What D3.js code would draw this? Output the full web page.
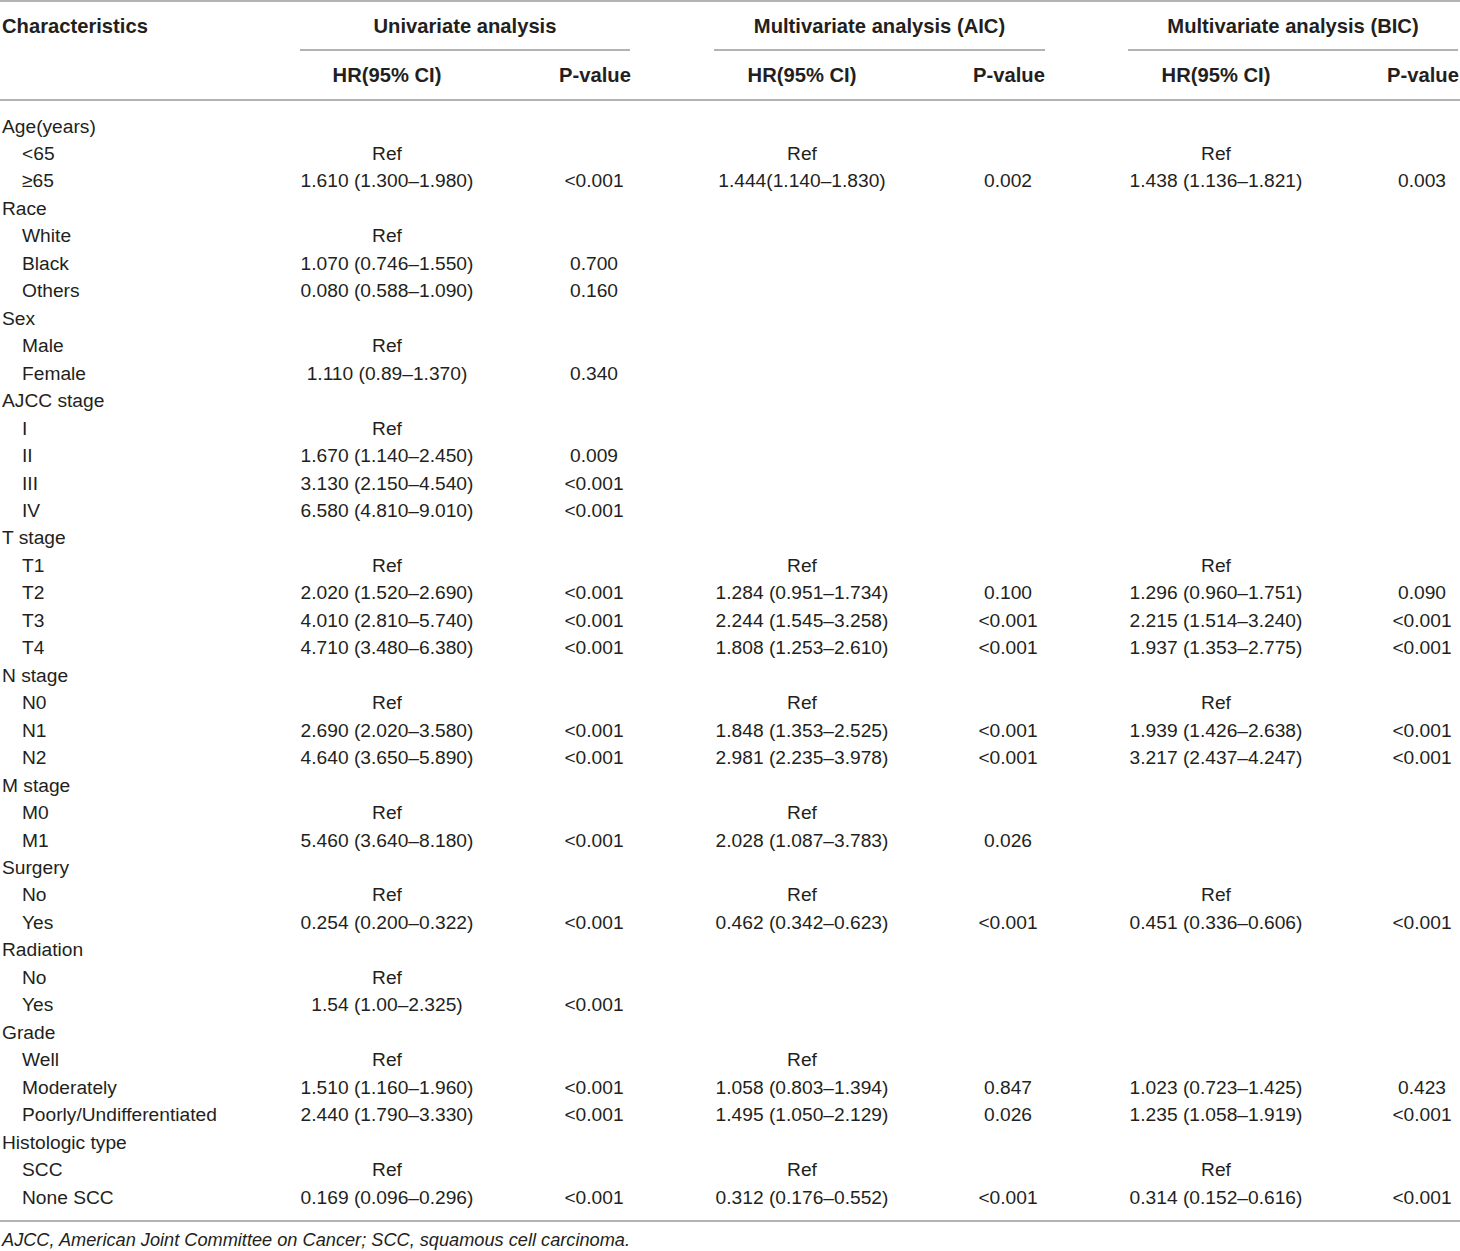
<!DOCTYPE html>
<html>
<head>
<meta charset="utf-8">
<script src="https://cdn.jsdelivr.net/npm/d3@7"></script>
<style>
  body { margin: 0; background: #fff; }
  svg text { font-family: "Liberation Sans", Arial, sans-serif; fill: #231f20; }
</style>
</head>
<body>
<div id="chart-area"></div>
<script>
// row labels (group headings are listed separately)
var labels = ["Age(years)", "<65", "≥65", "Race", "White", "Black", "Others",
  "Sex", "Male", "Female", "AJCC stage", "I", "II", "III", "IV",
  "T stage", "T1", "T2", "T3", "T4", "N stage", "N0", "N1", "N2",
  "M stage", "M0", "M1", "Surgery", "No", "Yes", "Radiation", "No", "Yes",
  "Grade", "Well", "Moderately", "Poorly/Undifferentiated",
  "Histologic type", "SCC", "None SCC"];
var groups = ["Age(years)", "Race", "Sex", "AJCC stage", "T stage", "N stage",
  "M stage", "Surgery", "Radiation", "Grade", "Histologic type"];

var uniHR = ["", "Ref", "1.610 (1.300–1.980)", "", "Ref", "1.070 (0.746–1.550)", "0.080 (0.588–1.090)",
  "", "Ref", "1.110 (0.89–1.370)", "", "Ref", "1.670 (1.140–2.450)", "3.130 (2.150–4.540)", "6.580 (4.810–9.010)",
  "", "Ref", "2.020 (1.520–2.690)", "4.010 (2.810–5.740)", "4.710 (3.480–6.380)",
  "", "Ref", "2.690 (2.020–3.580)", "4.640 (3.650–5.890)",
  "", "Ref", "5.460 (3.640–8.180)", "", "Ref", "0.254 (0.200–0.322)", "", "Ref", "1.54 (1.00–2.325)",
  "", "Ref", "1.510 (1.160–1.960)", "2.440 (1.790–3.330)", "", "Ref", "0.169 (0.096–0.296)"];
var uniP = ["", "", "<0.001", "", "", "0.700", "0.160",
  "", "", "0.340", "", "", "0.009", "<0.001", "<0.001",
  "", "", "<0.001", "<0.001", "<0.001", "", "", "<0.001", "<0.001",
  "", "", "<0.001", "", "", "<0.001", "", "", "<0.001",
  "", "", "<0.001", "<0.001", "", "", "<0.001"];
var aicHR = ["", "Ref", "1.444(1.140–1.830)", "", "", "", "",
  "", "", "", "", "", "", "", "",
  "", "Ref", "1.284 (0.951–1.734)", "2.244 (1.545–3.258)", "1.808 (1.253–2.610)",
  "", "Ref", "1.848 (1.353–2.525)", "2.981 (2.235–3.978)",
  "", "Ref", "2.028 (1.087–3.783)", "", "Ref", "0.462 (0.342–0.623)", "", "", "",
  "", "Ref", "1.058 (0.803–1.394)", "1.495 (1.050–2.129)", "", "Ref", "0.312 (0.176–0.552)"];
var aicP = ["", "", "0.002", "", "", "", "",
  "", "", "", "", "", "", "", "",
  "", "", "0.100", "<0.001", "<0.001", "", "", "<0.001", "<0.001",
  "", "", "0.026", "", "", "<0.001", "", "", "",
  "", "", "0.847", "0.026", "", "", "<0.001"];
var bicHR = ["", "Ref", "1.438 (1.136–1.821)", "", "", "", "",
  "", "", "", "", "", "", "", "",
  "", "Ref", "1.296 (0.960–1.751)", "2.215 (1.514–3.240)", "1.937 (1.353–2.775)",
  "", "Ref", "1.939 (1.426–2.638)", "3.217 (2.437–4.247)",
  "", "", "", "", "Ref", "0.451 (0.336–0.606)", "", "", "",
  "", "", "1.023 (0.723–1.425)", "1.235 (1.058–1.919)", "", "Ref", "0.314 (0.152–0.616)"];
var bicP = ["", "", "0.003", "", "", "", "",
  "", "", "", "", "", "", "", "",
  "", "", "0.090", "<0.001", "<0.001", "", "", "<0.001", "<0.001",
  "", "", "", "", "", "<0.001", "", "", "",
  "", "", "0.423", "<0.001", "", "", "<0.001"];

var analyses = ["Univariate analysis", "Multivariate analysis (AIC)", "Multivariate analysis (BIC)"];
var subHeaders = ["HR(95% CI)", "P-value"];
var footnote = "AJCC, American Joint Committee on Cancer; SCC, squamous cell carcinoma.";

var W = 1460, H = 1251;
var svg = d3.select("#chart-area").append("svg")
    .attr("width", W)
    .attr("height", H);

// row positions
var yScale = d3.scalePoint()
    .domain(d3.range(labels.length))
    .range([126, 1197]);

// column centres
var colX = d3.scaleOrdinal()
    .domain(["uniHR", "uniP", "aicHR", "aicP", "bicHR", "bicP"])
    .range([387, 594, 802, 1008, 1216, 1422]);
var spans = [[300, 630], [714, 1045], [1128, 1458]];

var lineColor = "#9a9a9a";
function hline(x1, x2, y) {
  svg.append("line")
      .attr("x1", x1).attr("x2", x2)
      .attr("y1", y).attr("y2", y)
      .attr("stroke", lineColor)
      .attr("stroke-width", 1.5);
}
hline(0, W, 1);
hline(0, W, 100);
hline(0, W, 1221);
spans.forEach(s => hline(s[0], s[1], 50));

// header
var headSize = "20.2px";
svg.append("text")
    .attr("x", 2).attr("y", 33)
    .attr("font-size", headSize).attr("font-weight", "bold")
    .text("Characteristics");

analyses.forEach((a, i) => {
  svg.append("text")
      .attr("x", (spans[i][0] + spans[i][1]) / 2).attr("y", 33)
      .attr("text-anchor", "middle")
      .attr("font-size", headSize).attr("font-weight", "bold")
      .text(a);
});

var keys = [["uniHR", "uniP"], ["aicHR", "aicP"], ["bicHR", "bicP"]];
keys.forEach(k => {
  k.forEach((c, j) => {
    svg.append("text")
        .attr("x", colX(c) + (j === 1 ? 1 : 0)).attr("y", 82)
        .attr("text-anchor", "middle")
        .attr("font-size", headSize).attr("font-weight", "bold")
        .text(subHeaders[j]);
  });
});

// body
var body = svg.append("g").attr("font-size", "19.2px");

body.selectAll("text.label")
  .data(labels)
  .enter()
  .append("text")
    .attr("class", "label")
    .attr("x", d => groups.includes(d) ? 2 : 22)
    .attr("y", (d, i) => yScale(i) + 6.5)
    .text(d => d);

var cols = { uniHR: uniHR, uniP: uniP, aicHR: aicHR, aicP: aicP, bicHR: bicHR, bicP: bicP };
Object.keys(cols).forEach(c => {
  body.selectAll("text." + c)
    .data(cols[c])
    .enter()
    .append("text")
      .attr("class", c)
      .attr("x", colX(c))
      .attr("y", (d, i) => yScale(i) + 6.5)
      .attr("text-anchor", "middle")
      .text(d => d);
});

// footnote
svg.append("text")
    .attr("x", 2).attr("y", 1246)
    .attr("font-size", "18.2px")
    .attr("font-style", "italic")
    .text(footnote);
</script>
</body>
</html>
